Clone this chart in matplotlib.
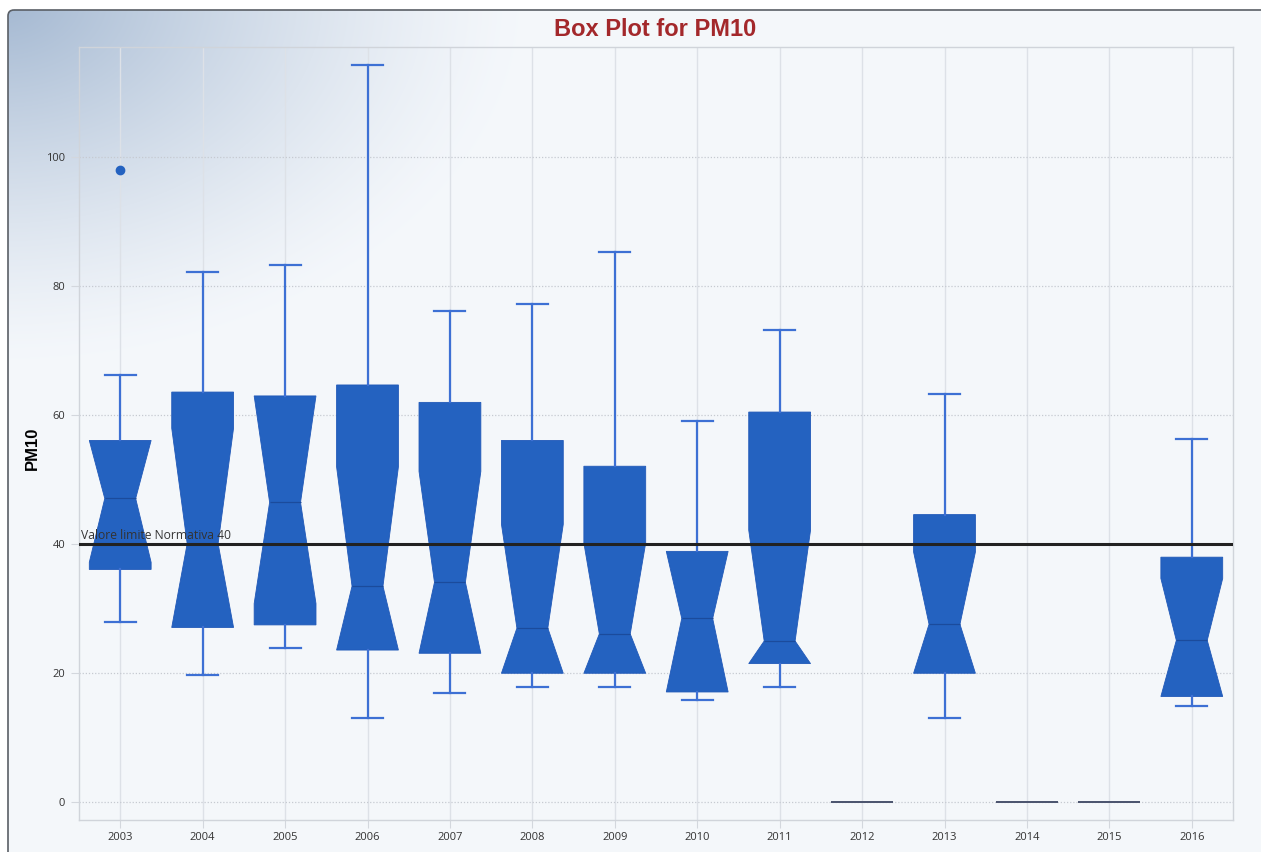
import numpy as np
import matplotlib
matplotlib.use("Agg")
import matplotlib.pyplot as plt
from matplotlib.patches import FancyBboxPatch

# --- data -----------------------------------------------------------------
years = ["2003", "2004", "2005", "2006", "2007", "2008", "2009",
         "2010", "2011", "2012", "2013", "2014", "2015", "2016"]
whisker_low = [27.9, 19.8, 23.9, 13.0, 16.9, 17.8, 17.8, 15.8, 17.8, 0, 13.0, 0, 0, 14.9]
q1 = [36.1, 27.1, 27.5, 23.6, 23.1, 20.0, 20.0, 17.1, 21.5, 0, 20.0, 0, 0, 16.4]
notch_low = [37.2, 27.1, 30.8, 23.6, 23.1, 20.0, 20.0, 17.1, 21.5, 0, 20.0, 0, 0, 16.4]
median = [47.1, 40.1, 46.5, 33.5, 34.1, 27.0, 26.1, 28.5, 25.0, 0, 27.6, 0, 0, 25.1]
notch_high = [56.1, 58.0, 63.0, 52.0, 51.3, 43.1, 40.2, 38.9, 42.2, 0, 38.8, 0, 0, 34.7]
q3 = [56.1, 63.6, 63.0, 64.7, 62.0, 56.1, 52.1, 38.9, 60.5, 0, 44.6, 0, 0, 38.0]
whisker_high = [66.2, 82.2, 83.3, 114.3, 76.1, 77.2, 85.3, 59.1, 73.2, 0, 63.3, 0, 0, 56.3]
outliers = [[98.1], [], [], [], [], [], [], [], [], [], [], [], [], []]
limit_value = 40
limit_label = "Valore limite Normativa 40"
y_ticks = [0, 20, 40, 60, 80, 100]

# --- figure ----------------------------------------------------------------
W, H = 1261, 852
fig = plt.figure(figsize=(W / 100, H / 100), dpi=100)
fig.patch.set_facecolor("white")

# background panel with a soft blue glow in the upper-left corner
bg = fig.add_axes([0, 0, 1, 1], zorder=-5)
bg.set_xlim(0, W)
bg.set_ylim(H, 0)
bg.axis("off")
xx, yy = np.meshgrid(np.arange(W), np.arange(H))
r = np.sqrt((xx / 520.0) ** 2 + (yy / 360.0) ** 2)
t = np.clip(1 - r, 0, 1) ** 1.3
base = np.array([0.957, 0.969, 0.984])
glow = np.array([0.64, 0.72, 0.82])
img = base[None, None, :] * (1 - t[..., None]) + glow[None, None, :] * t[..., None]
im = bg.imshow(img, extent=(0, W, H, 0), interpolation="bilinear", zorder=0)
frame = FancyBboxPatch((8, 10), W + 20, H, boxstyle="round,pad=0,rounding_size=6",
                       facecolor="none", edgecolor="#5a5f66", linewidth=1.2, zorder=2)
bg.add_patch(frame)
im.set_clip_path(frame)

ax = fig.add_axes([79 / W, 1 - 820 / H, (1233 - 79) / W, (820 - 47) / H])
ax.set_facecolor("none")

stats = []
for i, yr in enumerate(years):
    stats.append(dict(label=yr, med=median[i], q1=q1[i], q3=q3[i],
                      whislo=whisker_low[i], whishi=whisker_high[i],
                      cilo=notch_low[i], cihi=notch_high[i], fliers=outliers[i]))

fill_c = "#2462c0"
line_c = "#3d70d4"
res = ax.bxp(stats, positions=np.arange(len(years)), widths=0.75,
             shownotches=True, patch_artist=True, manage_ticks=False,
             boxprops=dict(facecolor=fill_c, edgecolor="#2159b8", linewidth=0.6),
             whiskerprops=dict(color=line_c, linewidth=1.6),
             capprops=dict(color=line_c, linewidth=1.6),
             medianprops=dict(color="#1b4b9c", linewidth=0.9),
             flierprops=dict(marker="o", markerfacecolor=fill_c, markeredgecolor=fill_c,
                             markersize=6))
for i, box in enumerate(res["boxes"]):
    if q3[i] == q1[i]:
        box.set_edgecolor("#4d5670")
        box.set_linewidth(1.2)
        res["medians"][i].set_visible(False)
        res["caps"][2 * i].set_visible(False)
        res["caps"][2 * i + 1].set_visible(False)

ax.axhline(limit_value, color="#222222", linewidth=2.2, zorder=5)
ax.text(-0.47, limit_value + 0.4, limit_label, fontsize=8.7, color="#333333",
        family="Open Sans", va="bottom", ha="left", zorder=6)

ax.set_xlim(-0.5, len(years) - 0.5)
ax.set_ylim(-2.75, 117.1)
ax.set_xticks(np.arange(len(years)))
ax.set_xticklabels(years, family="Open Sans", fontsize=8, color="#333333")
ax.set_yticks(y_ticks)
ax.set_yticklabels([str(v) for v in y_ticks], family="Open Sans", fontsize=8, color="#333333")
ax.tick_params(axis="both", length=6, color="#d3d7dd", width=0.8, pad=2.5)
ax.tick_params(axis="y", pad=4)

ax.grid(axis="x", color="#dde1e7", linewidth=1, linestyle="-")
ax.grid(axis="y", color="#c6cad1", linewidth=0.9, linestyle=(0, (1, 1.5)))
ax.set_axisbelow(True)
for s in ax.spines.values():
    s.set_color("#d0d4da")
    s.set_linewidth(1)

ax.set_ylabel("PM10", family="Liberation Sans", fontweight="bold", fontsize=12,
              color="black", labelpad=14)
ax.yaxis.set_label_coords(-0.0337, 0.5 - 15 / 773)

fig.text(655 / W, 1 - 30 / H, "Box Plot for PM10", ha="center", va="center",
         family="Liberation Sans", fontweight="bold", fontsize=17, color="#a3282b")

fig.savefig("out.png", dpi=100)
